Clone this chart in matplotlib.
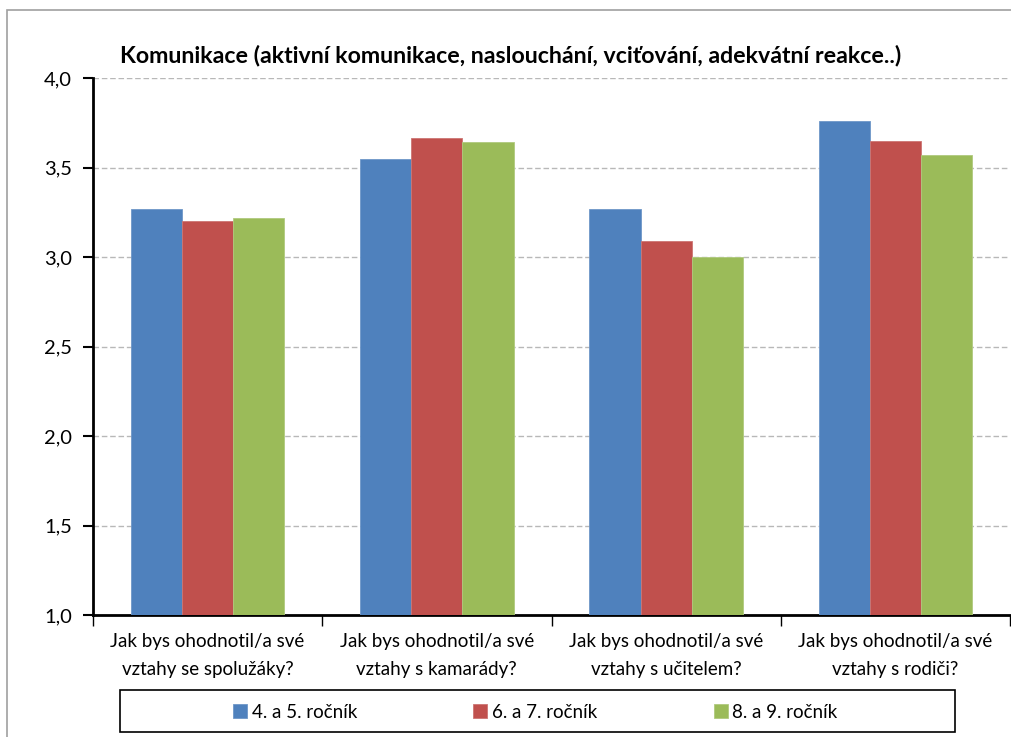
import matplotlib
matplotlib.use("Agg")
import matplotlib.pyplot as plt
from matplotlib.patches import Rectangle
from matplotlib.ticker import FuncFormatter, FixedLocator
import numpy as np

plt.rcParams['font.family'] = ['Lato', 'DejaVu Sans']

title = "Komunikace (aktivní komunikace, naslouchání, vciťování, adekvátní reakce..)"
categories = ["Jak bys ohodnotil/a své\nvztahy se spolužáky?",
              "Jak bys ohodnotil/a své\nvztahy s kamarády?",
              "Jak bys ohodnotil/a své\nvztahy s učitelem?",
              "Jak bys ohodnotil/a své\nvztahy s rodiči?"]
series_names = ["4. a 5. ročník", "6. a 7. ročník", "8. a 9. ročník"]
values_45 = [3.27, 3.55, 3.27, 3.76]
values_67 = [3.20, 3.665, 3.09, 3.65]
values_89 = [3.22, 3.64, 3.00, 3.57]
colors = ["#4F81BD", "#C0504D", "#9BBB59"]
edges = ["#6E97C8", "#CD7573", "#B0CA7E"]

W, H = 1011, 737
fig = plt.figure(figsize=(W / 100, H / 100), dpi=100)
fig.patches.append(Rectangle((7 / W, -0.1), 1.2, (H - 10) / H + 0.1,
                             transform=fig.transFigure, fill=False,
                             edgecolor="#A0A0A0", linewidth=1.2))
# legend box
fig.patches.append(Rectangle((120 / W, 1 - 732 / H), (955 - 120) / W, 42 / H,
                             transform=fig.transFigure, fill=False,
                             edgecolor="black", linewidth=1.2, zorder=5))

ax = fig.add_axes([93 / W, (H - 615) / H, (1010 - 93) / W, (615 - 78) / H])
x = np.arange(len(categories))
bw = 0.223
handles = []
for i, vals in enumerate([values_45, values_67, values_89]):
    b = ax.bar(x + (i - 1) * bw, [v - 1.0 for v in vals], bw, bottom=1.0,
               color=colors[i], edgecolor=edges[i], linewidth=0.6,
               label=series_names[i], zorder=3)
    handles.append(b)

ax.set_xlim(-0.5, len(categories) - 0.5)
ax.set_ylim(1.0, 4.0)
ax.set_yticks(np.arange(1.0, 4.01, 0.5))
ax.yaxis.set_major_formatter(FuncFormatter(lambda v, p: f"{v:.1f}".replace(".", ",")))
ax.yaxis.grid(True, color="#B8B8B8", linestyle=(0, (4, 2)), linewidth=1.0, zorder=0)
ax.set_axisbelow(True)

ax.xaxis.set_major_locator(FixedLocator(np.arange(-0.5, len(categories), 1.0)))
ax.xaxis.set_minor_locator(FixedLocator(x))
ax.set_xticklabels([""] * 5)
ax.set_xticklabels(categories, minor=True)
ax.tick_params(axis='x', which='major', length=8, width=1, direction='out', color='black')
ax.tick_params(axis='x', which='minor', length=0, pad=13, labelsize=13.5)
ax.tick_params(axis='y', length=7, width=1.5, direction='out', labelsize=14.5, pad=8)
for lab in ax.get_xticklabels(minor=True):
    lab.set_linespacing(1.8)

for s in ['top', 'right']:
    ax.spines[s].set_visible(False)
ax.spines['left'].set_linewidth(2)
ax.spines['bottom'].set_linewidth(2)

fig.text(511 / W, 1 - 55 / H, title, ha='center', va='center',
         fontsize=16.7, fontweight='bold')

leg = fig.legend(handles=handles, labels=series_names, loc='center left',
                 bbox_to_anchor=(233 / W, 1 - 712 / H), ncol=3,
                 fontsize=13.5, frameon=False,
                 handlelength=0.75, handleheight=0.75, handletextpad=0.25,
                 columnspacing=6.2, borderpad=0.0, borderaxespad=0.0)

fig.savefig("out.png", dpi=100, facecolor='white')
